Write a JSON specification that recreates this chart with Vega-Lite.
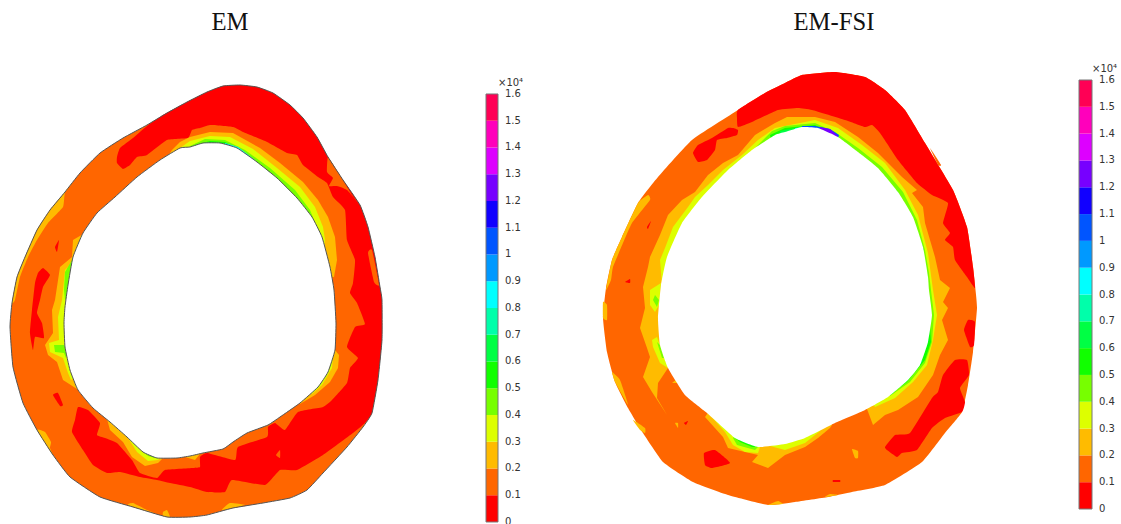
{"$schema":"https://vega.github.io/schema/vega-lite/v6.json","width":1121,"height":524,"padding":0,"autosize":"none","background":"white","view":{"stroke":null},"config":{"axis":{"disable":true}},
"datasets":{"bands":[{"b":"0","lo":0,"hi":0.1},{"b":"0.1","lo":0.1,"hi":0.2},{"b":"0.2","lo":0.2,"hi":0.3},{"b":"0.3","lo":0.3,"hi":0.4},{"b":"0.4","lo":0.4,"hi":0.5},{"b":"0.5","lo":0.5,"hi":0.6},{"b":"0.6","lo":0.6,"hi":0.7},{"b":"0.7","lo":0.7,"hi":0.8},{"b":"0.8","lo":0.8,"hi":0.9},{"b":"0.9","lo":0.9,"hi":1},{"b":"1","lo":1,"hi":1.1},{"b":"1.1","lo":1.1,"hi":1.2},{"b":"1.2","lo":1.2,"hi":1.3},{"b":"1.3","lo":1.3,"hi":1.4},{"b":"1.4","lo":1.4,"hi":1.5},{"b":"1.5","lo":1.5,"hi":1.6}],
"ticks":[{"v":0,"t":"0"},{"v":0.1,"t":"0.1"},{"v":0.2,"t":"0.2"},{"v":0.3,"t":"0.3"},{"v":0.4,"t":"0.4"},{"v":0.5,"t":"0.5"},{"v":0.6,"t":"0.6"},{"v":0.7,"t":"0.7"},{"v":0.8,"t":"0.8"},{"v":0.9,"t":"0.9"},{"v":1,"t":"1"},{"v":1.1,"t":"1.1"},{"v":1.2,"t":"1.2"},{"v":1.3,"t":"1.3"},{"v":1.4,"t":"1.4"},{"v":1.5,"t":"1.5"},{"v":1.6,"t":"1.6"}],
"shapes":[
{"s":"a0","b":"0.1","x":240,"y":85},{"s":"a0","b":"0.1","x":257,"y":87},{"s":"a0","b":"0.1","x":273,"y":93},{"s":"a0","b":"0.1","x":290,"y":105},{"s":"a0","b":"0.1","x":303,"y":118},{"s":"a0","b":"0.1","x":317,"y":137},{"s":"a0","b":"0.1","x":328,"y":157},{"s":"a0","b":"0.1","x":343,"y":180},{"s":"a0","b":"0.1","x":360,"y":205},{"s":"a0","b":"0.1","x":368,"y":227},{"s":"a0","b":"0.1","x":375,"y":257},{"s":"a0","b":"0.1","x":380,"y":287},{"s":"a0","b":"0.1","x":382,"y":300},{"s":"a0","b":"0.1","x":382,"y":340},{"s":"a0","b":"0.1","x":378,"y":380},{"s":"a0","b":"0.1","x":372,"y":413},{"s":"a0","b":"0.1","x":363,"y":427},{"s":"a0","b":"0.1","x":347,"y":447},{"s":"a0","b":"0.1","x":323,"y":473},{"s":"a0","b":"0.1","x":307,"y":490},{"s":"a0","b":"0.1","x":290,"y":498},{"s":"a0","b":"0.1","x":263,"y":503},{"s":"a0","b":"0.1","x":233,"y":508},{"s":"a0","b":"0.1","x":207,"y":515},{"s":"a0","b":"0.1","x":190,"y":517},{"s":"a0","b":"0.1","x":167,"y":517},{"s":"a0","b":"0.1","x":133,"y":507},{"s":"a0","b":"0.1","x":100,"y":497},{"s":"a0","b":"0.1","x":70,"y":477},{"s":"a0","b":"0.1","x":53,"y":455},{"s":"a0","b":"0.1","x":37,"y":430},{"s":"a0","b":"0.1","x":23,"y":403},{"s":"a0","b":"0.1","x":13,"y":367},{"s":"a0","b":"0.1","x":10,"y":327},{"s":"a0","b":"0.1","x":12,"y":303},{"s":"a0","b":"0.1","x":17,"y":277},{"s":"a0","b":"0.1","x":25,"y":257},{"s":"a0","b":"0.1","x":37,"y":230},{"s":"a0","b":"0.1","x":50,"y":210},{"s":"a0","b":"0.1","x":65,"y":192},{"s":"a0","b":"0.1","x":80,"y":173},{"s":"a0","b":"0.1","x":100,"y":153},{"s":"a0","b":"0.1","x":123,"y":138},{"s":"a0","b":"0.1","x":147,"y":125},{"s":"a0","b":"0.1","x":167,"y":113},{"s":"a0","b":"0.1","x":187,"y":102},{"s":"a0","b":"0.1","x":207,"y":92},{"s":"a0","b":"0.1","x":223,"y":86},
{"s":"a1","b":"0","x":117,"y":157},{"s":"a1","b":"0","x":120,"y":148},{"s":"a1","b":"0","x":133,"y":138},{"s":"a1","b":"0","x":147,"y":126},{"s":"a1","b":"0","x":163,"y":115},{"s":"a1","b":"0","x":187,"y":102},{"s":"a1","b":"0","x":207,"y":92},{"s":"a1","b":"0","x":223,"y":86},{"s":"a1","b":"0","x":240,"y":85},{"s":"a1","b":"0","x":257,"y":87},{"s":"a1","b":"0","x":273,"y":93},{"s":"a1","b":"0","x":290,"y":105},{"s":"a1","b":"0","x":303,"y":118},{"s":"a1","b":"0","x":317,"y":137},{"s":"a1","b":"0","x":328,"y":157},{"s":"a1","b":"0","x":343,"y":180},{"s":"a1","b":"0","x":360,"y":205},{"s":"a1","b":"0","x":368,"y":227},{"s":"a1","b":"0","x":375,"y":257},{"s":"a1","b":"0","x":380,"y":287},{"s":"a1","b":"0","x":382,"y":300},{"s":"a1","b":"0","x":382,"y":340},{"s":"a1","b":"0","x":378,"y":380},{"s":"a1","b":"0","x":372,"y":413},{"s":"a1","b":"0","x":365,"y":423},{"s":"a1","b":"0","x":353,"y":433},{"s":"a1","b":"0","x":323,"y":455},{"s":"a1","b":"0","x":297,"y":470},{"s":"a1","b":"0","x":280,"y":470},{"s":"a1","b":"0","x":265,"y":485},{"s":"a1","b":"0","x":232,"y":480},{"s":"a1","b":"0","x":225,"y":492},{"s":"a1","b":"0","x":207,"y":492},{"s":"a1","b":"0","x":190,"y":487},{"s":"a1","b":"0","x":170,"y":483},{"s":"a1","b":"0","x":157,"y":480},{"s":"a1","b":"0","x":140,"y":477},{"s":"a1","b":"0","x":120,"y":472},{"s":"a1","b":"0","x":107,"y":473},{"s":"a1","b":"0","x":93,"y":465},{"s":"a1","b":"0","x":83,"y":450},{"s":"a1","b":"0","x":72,"y":432},{"s":"a1","b":"0","x":75,"y":420},{"s":"a1","b":"0","x":78,"y":407},{"s":"a1","b":"0","x":88,"y":410},{"s":"a1","b":"0","x":100,"y":423},{"s":"a1","b":"0","x":97,"y":435},{"s":"a1","b":"0","x":105,"y":438},{"s":"a1","b":"0","x":117,"y":443},{"s":"a1","b":"0","x":132,"y":460},{"s":"a1","b":"0","x":140,"y":473},{"s":"a1","b":"0","x":157,"y":478},{"s":"a1","b":"0","x":165,"y":470},{"s":"a1","b":"0","x":193,"y":468},{"s":"a1","b":"0","x":200,"y":467},{"s":"a1","b":"0","x":200,"y":457},{"s":"a1","b":"0","x":207,"y":453},{"s":"a1","b":"0","x":235,"y":460},{"s":"a1","b":"0","x":238,"y":447},{"s":"a1","b":"0","x":267,"y":437},{"s":"a1","b":"0","x":268,"y":427},{"s":"a1","b":"0","x":275,"y":423},{"s":"a1","b":"0","x":285,"y":430},{"s":"a1","b":"0","x":298,"y":412},{"s":"a1","b":"0","x":323,"y":407},{"s":"a1","b":"0","x":332,"y":400},{"s":"a1","b":"0","x":347,"y":383},{"s":"a1","b":"0","x":350,"y":368},{"s":"a1","b":"0","x":358,"y":358},{"s":"a1","b":"0","x":347,"y":347},{"s":"a1","b":"0","x":355,"y":327},{"s":"a1","b":"0","x":365,"y":324},{"s":"a1","b":"0","x":357,"y":303},{"s":"a1","b":"0","x":350,"y":293},{"s":"a1","b":"0","x":353,"y":283},{"s":"a1","b":"0","x":355,"y":260},{"s":"a1","b":"0","x":347,"y":240},{"s":"a1","b":"0","x":345,"y":210},{"s":"a1","b":"0","x":333,"y":197},{"s":"a1","b":"0","x":327,"y":183},{"s":"a1","b":"0","x":318,"y":177},{"s":"a1","b":"0","x":303,"y":165},{"s":"a1","b":"0","x":297,"y":155},{"s":"a1","b":"0","x":287,"y":153},{"s":"a1","b":"0","x":267,"y":142},{"s":"a1","b":"0","x":243,"y":132},{"s":"a1","b":"0","x":233,"y":127},{"s":"a1","b":"0","x":210,"y":125},{"s":"a1","b":"0","x":200,"y":128},{"s":"a1","b":"0","x":192,"y":130},{"s":"a1","b":"0","x":188,"y":138},{"s":"a1","b":"0","x":167,"y":140},{"s":"a1","b":"0","x":147,"y":155},{"s":"a1","b":"0","x":137,"y":157},{"s":"a1","b":"0","x":130,"y":165},{"s":"a1","b":"0","x":123,"y":169},{"s":"a1","b":"0","x":117,"y":163},
{"s":"a2","b":"0","x":43,"y":268},{"s":"a2","b":"0","x":50,"y":275},{"s":"a2","b":"0","x":43,"y":287},{"s":"a2","b":"0","x":40,"y":300},{"s":"a2","b":"0","x":37,"y":313},{"s":"a2","b":"0","x":42,"y":323},{"s":"a2","b":"0","x":44,"y":338},{"s":"a2","b":"0","x":35,"y":337},{"s":"a2","b":"0","x":33,"y":350},{"s":"a2","b":"0","x":30,"y":333},{"s":"a2","b":"0","x":32,"y":310},{"s":"a2","b":"0","x":35,"y":283},{"s":"a2","b":"0","x":38,"y":273},
{"s":"a3","b":"0","x":55,"y":247},{"s":"a3","b":"0","x":59,"y":240},{"s":"a3","b":"0","x":57,"y":252},
{"s":"a4","b":"0","x":53,"y":395},{"s":"a4","b":"0","x":58,"y":393},{"s":"a4","b":"0","x":63,"y":405},{"s":"a4","b":"0","x":60,"y":406},
{"s":"a5","b":"0.1","x":328,"y":157},{"s":"a5","b":"0.1","x":338,"y":172},{"s":"a5","b":"0.1","x":352,"y":195},{"s":"a5","b":"0.1","x":360,"y":205},{"s":"a5","b":"0.1","x":347,"y":190},{"s":"a5","b":"0.1","x":337,"y":186},{"s":"a5","b":"0.1","x":329,"y":186},{"s":"a5","b":"0.1","x":333,"y":178},{"s":"a5","b":"0.1","x":327,"y":172},
{"s":"a6","b":"0.1","x":368,"y":253},{"s":"a6","b":"0.1","x":372,"y":250},{"s":"a6","b":"0.1","x":379,"y":285},{"s":"a6","b":"0.1","x":374,"y":282},
{"s":"a7","b":"0.1","x":276,"y":455},{"s":"a7","b":"0.1","x":280,"y":450},{"s":"a7","b":"0.1","x":280,"y":458},
{"s":"a8","b":"0.2","x":77,"y":177},{"s":"a8","b":"0.2","x":65,"y":193},{"s":"a8","b":"0.2","x":63,"y":207},{"s":"a8","b":"0.2","x":48,"y":223},{"s":"a8","b":"0.2","x":37,"y":240},{"s":"a8","b":"0.2","x":28,"y":257},{"s":"a8","b":"0.2","x":20,"y":277},{"s":"a8","b":"0.2","x":15,"y":300},{"s":"a8","b":"0.2","x":12,"y":303},{"s":"a8","b":"0.2","x":17,"y":277},{"s":"a8","b":"0.2","x":25,"y":257},{"s":"a8","b":"0.2","x":37,"y":230},{"s":"a8","b":"0.2","x":50,"y":210},{"s":"a8","b":"0.2","x":65,"y":192},
{"s":"a9","b":"0.2","x":37,"y":430},{"s":"a9","b":"0.2","x":45,"y":432},{"s":"a9","b":"0.2","x":51,"y":442},{"s":"a9","b":"0.2","x":50,"y":448},{"s":"a9","b":"0.2","x":53,"y":455},
{"s":"a10","b":"0.2","x":128,"y":505},{"s":"a10","b":"0.2","x":133,"y":503},{"s":"a10","b":"0.2","x":147,"y":510},{"s":"a10","b":"0.2","x":157,"y":514},
{"s":"a11","b":"0.2","x":163,"y":512},{"s":"a11","b":"0.2","x":167,"y":510},{"s":"a11","b":"0.2","x":170,"y":517},{"s":"a11","b":"0.2","x":163,"y":516},
{"s":"a12","b":"0.2","x":222,"y":510},{"s":"a12","b":"0.2","x":230,"y":503},{"s":"a12","b":"0.2","x":245,"y":505},
{"s":"a13","b":"0.2","x":167,"y":158},{"s":"a13","b":"0.2","x":172,"y":150},{"s":"a13","b":"0.2","x":180,"y":142},{"s":"a13","b":"0.2","x":190,"y":137},{"s":"a13","b":"0.2","x":210,"y":132},{"s":"a13","b":"0.2","x":233,"y":133},{"s":"a13","b":"0.2","x":260,"y":148},{"s":"a13","b":"0.2","x":280,"y":163},{"s":"a13","b":"0.2","x":303,"y":182},{"s":"a13","b":"0.2","x":318,"y":200},{"s":"a13","b":"0.2","x":328,"y":217},{"s":"a13","b":"0.2","x":335,"y":237},{"s":"a13","b":"0.2","x":337,"y":260},{"s":"a13","b":"0.2","x":334,"y":277},{"s":"a13","b":"0.2","x":200,"y":300},
{"s":"a14","b":"0.2","x":113,"y":199},{"s":"a14","b":"0.2","x":110,"y":205},{"s":"a14","b":"0.2","x":100,"y":210},{"s":"a14","b":"0.2","x":90,"y":230},{"s":"a14","b":"0.2","x":73,"y":240},{"s":"a14","b":"0.2","x":72,"y":257},{"s":"a14","b":"0.2","x":60,"y":267},{"s":"a14","b":"0.2","x":55,"y":300},{"s":"a14","b":"0.2","x":52,"y":310},{"s":"a14","b":"0.2","x":53,"y":333},{"s":"a14","b":"0.2","x":45,"y":345},{"s":"a14","b":"0.2","x":48,"y":355},{"s":"a14","b":"0.2","x":57,"y":362},{"s":"a14","b":"0.2","x":63,"y":380},{"s":"a14","b":"0.2","x":77,"y":389},{"s":"a14","b":"0.2","x":200,"y":300},
{"s":"a15","b":"0.2","x":107,"y":419},{"s":"a15","b":"0.2","x":110,"y":430},{"s":"a15","b":"0.2","x":123,"y":442},{"s":"a15","b":"0.2","x":132,"y":457},{"s":"a15","b":"0.2","x":145,"y":466},{"s":"a15","b":"0.2","x":158,"y":463},{"s":"a15","b":"0.2","x":163,"y":458},{"s":"a15","b":"0.2","x":185,"y":457},{"s":"a15","b":"0.2","x":195,"y":460},{"s":"a15","b":"0.2","x":200,"y":454},{"s":"a15","b":"0.2","x":200,"y":300},
{"s":"a16","b":"0.2","x":335,"y":350},{"s":"a16","b":"0.2","x":339,"y":355},{"s":"a16","b":"0.2","x":338,"y":368},{"s":"a16","b":"0.2","x":330,"y":382},{"s":"a16","b":"0.2","x":315,"y":395},{"s":"a16","b":"0.2","x":300,"y":404},{"s":"a16","b":"0.2","x":200,"y":300},
{"s":"a17","b":"0.3","x":180,"y":148},{"s":"a17","b":"0.3","x":190,"y":141},{"s":"a17","b":"0.3","x":210,"y":136},{"s":"a17","b":"0.3","x":230,"y":137},{"s":"a17","b":"0.3","x":253,"y":149},{"s":"a17","b":"0.3","x":277,"y":168},{"s":"a17","b":"0.3","x":300,"y":187},{"s":"a17","b":"0.3","x":315,"y":207},{"s":"a17","b":"0.3","x":323,"y":227},{"s":"a17","b":"0.3","x":325,"y":240},{"s":"a17","b":"0.3","x":324,"y":248},{"s":"a17","b":"0.3","x":200,"y":300},
{"s":"a18","b":"0.4","x":190,"y":146},{"s":"a18","b":"0.4","x":205,"y":139},{"s":"a18","b":"0.4","x":225,"y":140},{"s":"a18","b":"0.4","x":245,"y":150},{"s":"a18","b":"0.4","x":270,"y":168},{"s":"a18","b":"0.4","x":295,"y":190},{"s":"a18","b":"0.4","x":310,"y":210},{"s":"a18","b":"0.4","x":319,"y":232},{"s":"a18","b":"0.4","x":200,"y":300},
{"s":"a19","b":"0.5","x":195,"y":145},{"s":"a19","b":"0.5","x":210,"y":141},{"s":"a19","b":"0.5","x":225,"y":142},{"s":"a19","b":"0.5","x":245,"y":153},{"s":"a19","b":"0.5","x":270,"y":172},{"s":"a19","b":"0.5","x":292,"y":193},{"s":"a19","b":"0.5","x":305,"y":210},{"s":"a19","b":"0.5","x":200,"y":300},
{"s":"a20","b":"0.6","x":205,"y":143},{"s":"a20","b":"0.6","x":222,"y":143},{"s":"a20","b":"0.6","x":240,"y":153},{"s":"a20","b":"0.6","x":265,"y":172},{"s":"a20","b":"0.6","x":285,"y":190},{"s":"a20","b":"0.6","x":200,"y":300},
{"s":"a21","b":"0.8","x":225,"y":143},{"s":"a21","b":"0.8","x":238,"y":147},{"s":"a21","b":"0.8","x":255,"y":160},{"s":"a21","b":"0.8","x":200,"y":300},
{"s":"a22","b":"0.3","x":90,"y":224},{"s":"a22","b":"0.3","x":82,"y":238},{"s":"a22","b":"0.3","x":75,"y":260},{"s":"a22","b":"0.3","x":65,"y":270},{"s":"a22","b":"0.3","x":62,"y":300},{"s":"a22","b":"0.3","x":58,"y":317},{"s":"a22","b":"0.3","x":59,"y":340},{"s":"a22","b":"0.3","x":49,"y":343},{"s":"a22","b":"0.3","x":50,"y":352},{"s":"a22","b":"0.3","x":63,"y":358},{"s":"a22","b":"0.3","x":68,"y":373},{"s":"a22","b":"0.3","x":71,"y":380},{"s":"a22","b":"0.3","x":200,"y":300},
{"s":"a23","b":"0.4","x":72,"y":260},{"s":"a23","b":"0.4","x":65,"y":272},{"s":"a23","b":"0.4","x":64,"y":290},{"s":"a23","b":"0.4","x":65,"y":300},{"s":"a23","b":"0.4","x":200,"y":300},
{"s":"a24","b":"0.4","x":66,"y":345},{"s":"a24","b":"0.4","x":54,"y":345},{"s":"a24","b":"0.4","x":55,"y":352},{"s":"a24","b":"0.4","x":64,"y":353},{"s":"a24","b":"0.4","x":66,"y":358},
{"s":"a25","b":"0.3","x":128,"y":438},{"s":"a25","b":"0.3","x":137,"y":452},{"s":"a25","b":"0.3","x":148,"y":461},{"s":"a25","b":"0.3","x":158,"y":460},{"s":"a25","b":"0.3","x":160,"y":458},{"s":"a25","b":"0.3","x":200,"y":300},
{"s":"a26","b":"0.4","x":142,"y":451},{"s":"a26","b":"0.4","x":148,"y":456},{"s":"a26","b":"0.4","x":155,"y":458},{"s":"a26","b":"0.4","x":200,"y":300},
{"s":"a27","b":"0.3","x":334,"y":354},{"s":"a27","b":"0.3","x":333,"y":357},{"s":"a27","b":"0.3","x":332,"y":368},{"s":"a27","b":"0.3","x":322,"y":385},{"s":"a27","b":"0.3","x":312,"y":394},{"s":"a27","b":"0.3","x":200,"y":300},
{"s":"ah","b":"h","x":190,"y":147},{"s":"ah","b":"h","x":203,"y":143},{"s":"ah","b":"h","x":220,"y":143},{"s":"ah","b":"h","x":237,"y":148},{"s":"ah","b":"h","x":257,"y":162},{"s":"ah","b":"h","x":277,"y":178},{"s":"ah","b":"h","x":297,"y":198},{"s":"ah","b":"h","x":312,"y":217},{"s":"ah","b":"h","x":322,"y":237},{"s":"ah","b":"h","x":330,"y":267},{"s":"ah","b":"h","x":334,"y":290},{"s":"ah","b":"h","x":336,"y":323},{"s":"ah","b":"h","x":335,"y":350},{"s":"ah","b":"h","x":328,"y":372},{"s":"ah","b":"h","x":318,"y":387},{"s":"ah","b":"h","x":300,"y":403},{"s":"ah","b":"h","x":280,"y":417},{"s":"ah","b":"h","x":268,"y":425},{"s":"ah","b":"h","x":247,"y":433},{"s":"ah","b":"h","x":233,"y":442},{"s":"ah","b":"h","x":223,"y":449},{"s":"ah","b":"h","x":203,"y":453},{"s":"ah","b":"h","x":190,"y":456},{"s":"ah","b":"h","x":177,"y":458},{"s":"ah","b":"h","x":157,"y":458},{"s":"ah","b":"h","x":143,"y":452},{"s":"ah","b":"h","x":127,"y":437},{"s":"ah","b":"h","x":110,"y":422},{"s":"ah","b":"h","x":93,"y":408},{"s":"ah","b":"h","x":78,"y":390},{"s":"ah","b":"h","x":70,"y":370},{"s":"ah","b":"h","x":65,"y":347},{"s":"ah","b":"h","x":64,"y":323},{"s":"ah","b":"h","x":65,"y":307},{"s":"ah","b":"h","x":68,"y":285},{"s":"ah","b":"h","x":73,"y":257},{"s":"ah","b":"h","x":83,"y":233},{"s":"ah","b":"h","x":97,"y":213},{"s":"ah","b":"h","x":115,"y":197},{"s":"ah","b":"h","x":137,"y":177},{"s":"ah","b":"h","x":160,"y":160},{"s":"ah","b":"h","x":180,"y":148},
{"s":"b0","b":"0.1","x":835,"y":72},{"s":"b0","b":"0.1","x":865,"y":77},{"s":"b0","b":"0.1","x":885,"y":90},{"s":"b0","b":"0.1","x":905,"y":110},{"s":"b0","b":"0.1","x":925,"y":143},{"s":"b0","b":"0.1","x":953,"y":190},{"s":"b0","b":"0.1","x":967,"y":227},{"s":"b0","b":"0.1","x":973,"y":267},{"s":"b0","b":"0.1","x":975,"y":285},{"s":"b0","b":"0.1","x":977,"y":308},{"s":"b0","b":"0.1","x":973,"y":352},{"s":"b0","b":"0.1","x":968,"y":385},{"s":"b0","b":"0.1","x":962,"y":412},{"s":"b0","b":"0.1","x":945,"y":433},{"s":"b0","b":"0.1","x":922,"y":462},{"s":"b0","b":"0.1","x":885,"y":485},{"s":"b0","b":"0.1","x":852,"y":492},{"s":"b0","b":"0.1","x":828,"y":497},{"s":"b0","b":"0.1","x":795,"y":502},{"s":"b0","b":"0.1","x":768,"y":505},{"s":"b0","b":"0.1","x":728,"y":495},{"s":"b0","b":"0.1","x":693,"y":482},{"s":"b0","b":"0.1","x":663,"y":462},{"s":"b0","b":"0.1","x":643,"y":433},{"s":"b0","b":"0.1","x":628,"y":408},{"s":"b0","b":"0.1","x":615,"y":382},{"s":"b0","b":"0.1","x":607,"y":352},{"s":"b0","b":"0.1","x":603,"y":318},{"s":"b0","b":"0.1","x":606,"y":288},{"s":"b0","b":"0.1","x":612,"y":260},{"s":"b0","b":"0.1","x":622,"y":237},{"s":"b0","b":"0.1","x":638,"y":203},{"s":"b0","b":"0.1","x":658,"y":177},{"s":"b0","b":"0.1","x":692,"y":140},{"s":"b0","b":"0.1","x":738,"y":110},{"s":"b0","b":"0.1","x":765,"y":93},{"s":"b0","b":"0.1","x":785,"y":83},{"s":"b0","b":"0.1","x":802,"y":75},
{"s":"b1","b":"0","x":737,"y":118},{"s":"b1","b":"0","x":738,"y":110},{"s":"b1","b":"0","x":765,"y":93},{"s":"b1","b":"0","x":785,"y":83},{"s":"b1","b":"0","x":802,"y":75},{"s":"b1","b":"0","x":835,"y":72},{"s":"b1","b":"0","x":865,"y":77},{"s":"b1","b":"0","x":885,"y":90},{"s":"b1","b":"0","x":905,"y":110},{"s":"b1","b":"0","x":925,"y":143},{"s":"b1","b":"0","x":953,"y":190},{"s":"b1","b":"0","x":967,"y":227},{"s":"b1","b":"0","x":973,"y":267},{"s":"b1","b":"0","x":975,"y":288},{"s":"b1","b":"0","x":967,"y":277},{"s":"b1","b":"0","x":955,"y":260},{"s":"b1","b":"0","x":953,"y":247},{"s":"b1","b":"0","x":945,"y":240},{"s":"b1","b":"0","x":950,"y":233},{"s":"b1","b":"0","x":943,"y":223},{"s":"b1","b":"0","x":948,"y":203},{"s":"b1","b":"0","x":932,"y":195},{"s":"b1","b":"0","x":917,"y":183},{"s":"b1","b":"0","x":898,"y":160},{"s":"b1","b":"0","x":880,"y":133},{"s":"b1","b":"0","x":872,"y":125},{"s":"b1","b":"0","x":865,"y":127},{"s":"b1","b":"0","x":845,"y":120},{"s":"b1","b":"0","x":812,"y":110},{"s":"b1","b":"0","x":798,"y":108},{"s":"b1","b":"0","x":778,"y":110},{"s":"b1","b":"0","x":752,"y":122},{"s":"b1","b":"0","x":738,"y":127},
{"s":"b2","b":"0","x":693,"y":153},{"s":"b2","b":"0","x":698,"y":145},{"s":"b2","b":"0","x":712,"y":138},{"s":"b2","b":"0","x":728,"y":128},{"s":"b2","b":"0","x":733,"y":128},{"s":"b2","b":"0","x":738,"y":130},{"s":"b2","b":"0","x":737,"y":135},{"s":"b2","b":"0","x":727,"y":138},{"s":"b2","b":"0","x":717,"y":140},{"s":"b2","b":"0","x":715,"y":150},{"s":"b2","b":"0","x":707,"y":160},{"s":"b2","b":"0","x":698,"y":162},
{"s":"b3","b":"0","x":885,"y":447},{"s":"b3","b":"0","x":895,"y":435},{"s":"b3","b":"0","x":910,"y":433},{"s":"b3","b":"0","x":932,"y":398},{"s":"b3","b":"0","x":938,"y":392},{"s":"b3","b":"0","x":943,"y":375},{"s":"b3","b":"0","x":955,"y":360},{"s":"b3","b":"0","x":967,"y":360},{"s":"b3","b":"0","x":969,"y":375},{"s":"b3","b":"0","x":960,"y":388},{"s":"b3","b":"0","x":965,"y":402},{"s":"b3","b":"0","x":962,"y":412},{"s":"b3","b":"0","x":945,"y":418},{"s":"b3","b":"0","x":932,"y":428},{"s":"b3","b":"0","x":917,"y":450},{"s":"b3","b":"0","x":902,"y":453},{"s":"b3","b":"0","x":897,"y":457},{"s":"b3","b":"0","x":887,"y":450},
{"s":"b4","b":"0","x":968,"y":320},{"s":"b4","b":"0","x":975,"y":322},{"s":"b4","b":"0","x":974,"y":345},{"s":"b4","b":"0","x":970,"y":347},{"s":"b4","b":"0","x":964,"y":330},
{"s":"b5","b":"0","x":704,"y":453},{"s":"b5","b":"0","x":715,"y":450},{"s":"b5","b":"0","x":730,"y":463},{"s":"b5","b":"0","x":712,"y":468},{"s":"b5","b":"0","x":705,"y":465},
{"s":"b6","b":"0","x":833,"y":480},{"s":"b6","b":"0","x":840,"y":480},{"s":"b6","b":"0","x":840,"y":482},{"s":"b6","b":"0","x":833,"y":482},
{"s":"b7","b":"0","x":684,"y":423},{"s":"b7","b":"0","x":688,"y":421},{"s":"b7","b":"0","x":686,"y":425},
{"s":"b8","b":"0","x":647,"y":227},{"s":"b8","b":"0","x":651,"y":221},{"s":"b8","b":"0","x":648,"y":229},
{"s":"b9","b":"0","x":625,"y":282},{"s":"b9","b":"0","x":630,"y":279},{"s":"b9","b":"0","x":630,"y":283},
{"s":"b10","b":"0.1","x":930,"y":148},{"s":"b10","b":"0.1","x":941,"y":165},{"s":"b10","b":"0.1","x":938,"y":165},
{"s":"b11","b":"0.2","x":648,"y":195},{"s":"b11","b":"0.2","x":650,"y":200},{"s":"b11","b":"0.2","x":632,"y":223},{"s":"b11","b":"0.2","x":623,"y":243},{"s":"b11","b":"0.2","x":613,"y":267},{"s":"b11","b":"0.2","x":611,"y":280},{"s":"b11","b":"0.2","x":606,"y":290},{"s":"b11","b":"0.2","x":612,"y":260},{"s":"b11","b":"0.2","x":622,"y":237},{"s":"b11","b":"0.2","x":638,"y":203},
{"s":"b12","b":"0.2","x":603,"y":302},{"s":"b12","b":"0.2","x":607,"y":305},{"s":"b12","b":"0.2","x":607,"y":320},{"s":"b12","b":"0.2","x":603,"y":318},
{"s":"b13","b":"0.2","x":612,"y":372},{"s":"b13","b":"0.2","x":620,"y":380},{"s":"b13","b":"0.2","x":628,"y":405},{"s":"b13","b":"0.2","x":615,"y":382},
{"s":"b14","b":"0.2","x":633,"y":420},{"s":"b14","b":"0.2","x":645,"y":428},{"s":"b14","b":"0.2","x":645,"y":433},{"s":"b14","b":"0.2","x":640,"y":430},
{"s":"b15","b":"0.2","x":768,"y":505},{"s":"b15","b":"0.2","x":778,"y":501},{"s":"b15","b":"0.2","x":783,"y":504},
{"s":"b16","b":"0.2","x":825,"y":497},{"s":"b16","b":"0.2","x":830,"y":494},{"s":"b16","b":"0.2","x":838,"y":495},
{"s":"b17","b":"0.2","x":852,"y":449},{"s":"b17","b":"0.2","x":858,"y":451},{"s":"b17","b":"0.2","x":858,"y":458},{"s":"b17","b":"0.2","x":855,"y":458},
{"s":"b18","b":"0.2","x":675,"y":423},{"s":"b18","b":"0.2","x":678,"y":423},{"s":"b18","b":"0.2","x":678,"y":428},
{"s":"b19","b":"0.2","x":668,"y":368},{"s":"b19","b":"0.2","x":658,"y":383},{"s":"b19","b":"0.2","x":657,"y":398},{"s":"b19","b":"0.2","x":667,"y":415},{"s":"b19","b":"0.2","x":652,"y":392},{"s":"b19","b":"0.2","x":643,"y":377},{"s":"b19","b":"0.2","x":650,"y":357},{"s":"b19","b":"0.2","x":647,"y":348},{"s":"b19","b":"0.2","x":640,"y":328},{"s":"b19","b":"0.2","x":645,"y":308},{"s":"b19","b":"0.2","x":643,"y":287},{"s":"b19","b":"0.2","x":648,"y":267},{"s":"b19","b":"0.2","x":650,"y":257},{"s":"b19","b":"0.2","x":660,"y":235},{"s":"b19","b":"0.2","x":668,"y":215},{"s":"b19","b":"0.2","x":682,"y":200},{"s":"b19","b":"0.2","x":695,"y":192},{"s":"b19","b":"0.2","x":708,"y":175},{"s":"b19","b":"0.2","x":723,"y":163},{"s":"b19","b":"0.2","x":738,"y":155},{"s":"b19","b":"0.2","x":755,"y":135},{"s":"b19","b":"0.2","x":775,"y":123},{"s":"b19","b":"0.2","x":787,"y":117},{"s":"b19","b":"0.2","x":815,"y":117},{"s":"b19","b":"0.2","x":835,"y":122},{"s":"b19","b":"0.2","x":858,"y":137},{"s":"b19","b":"0.2","x":878,"y":153},{"s":"b19","b":"0.2","x":902,"y":177},{"s":"b19","b":"0.2","x":917,"y":190},{"s":"b19","b":"0.2","x":912,"y":193},{"s":"b19","b":"0.2","x":923,"y":207},{"s":"b19","b":"0.2","x":925,"y":223},{"s":"b19","b":"0.2","x":935,"y":257},{"s":"b19","b":"0.2","x":940,"y":280},{"s":"b19","b":"0.2","x":950,"y":288},{"s":"b19","b":"0.2","x":943,"y":302},{"s":"b19","b":"0.2","x":948,"y":308},{"s":"b19","b":"0.2","x":942,"y":320},{"s":"b19","b":"0.2","x":948,"y":340},{"s":"b19","b":"0.2","x":940,"y":355},{"s":"b19","b":"0.2","x":933,"y":375},{"s":"b19","b":"0.2","x":918,"y":397},{"s":"b19","b":"0.2","x":898,"y":410},{"s":"b19","b":"0.2","x":885,"y":415},{"s":"b19","b":"0.2","x":873,"y":425},{"s":"b19","b":"0.2","x":867,"y":409},{"s":"b19","b":"0.2","x":800,"y":280},
{"s":"b20","b":"0.2","x":832,"y":425},{"s":"b20","b":"0.2","x":830,"y":428},{"s":"b20","b":"0.2","x":818,"y":438},{"s":"b20","b":"0.2","x":805,"y":447},{"s":"b20","b":"0.2","x":785,"y":455},{"s":"b20","b":"0.2","x":768,"y":468},{"s":"b20","b":"0.2","x":752,"y":462},{"s":"b20","b":"0.2","x":758,"y":455},{"s":"b20","b":"0.2","x":728,"y":448},{"s":"b20","b":"0.2","x":723,"y":437},{"s":"b20","b":"0.2","x":705,"y":417},{"s":"b20","b":"0.2","x":800,"y":280},
{"s":"b21","b":"0.2","x":672,"y":383},{"s":"b21","b":"0.2","x":680,"y":383},{"s":"b21","b":"0.2","x":703,"y":410},{"s":"b21","b":"0.2","x":800,"y":280},
{"s":"b22","b":"0.3","x":662,"y":285},{"s":"b22","b":"0.3","x":660,"y":260},{"s":"b22","b":"0.3","x":665,"y":248},{"s":"b22","b":"0.3","x":673,"y":227},{"s":"b22","b":"0.3","x":688,"y":207},{"s":"b22","b":"0.3","x":695,"y":197},{"s":"b22","b":"0.3","x":708,"y":185},{"s":"b22","b":"0.3","x":723,"y":170},{"s":"b22","b":"0.3","x":742,"y":155},{"s":"b22","b":"0.3","x":758,"y":140},{"s":"b22","b":"0.3","x":775,"y":128},{"s":"b22","b":"0.3","x":795,"y":124},{"s":"b22","b":"0.3","x":815,"y":120},{"s":"b22","b":"0.3","x":838,"y":128},{"s":"b22","b":"0.3","x":862,"y":145},{"s":"b22","b":"0.3","x":885,"y":163},{"s":"b22","b":"0.3","x":905,"y":190},{"s":"b22","b":"0.3","x":918,"y":215},{"s":"b22","b":"0.3","x":928,"y":253},{"s":"b22","b":"0.3","x":933,"y":290},{"s":"b22","b":"0.3","x":937,"y":315},{"s":"b22","b":"0.3","x":933,"y":340},{"s":"b22","b":"0.3","x":927,"y":365},{"s":"b22","b":"0.3","x":913,"y":382},{"s":"b22","b":"0.3","x":895,"y":398},{"s":"b22","b":"0.3","x":875,"y":407},{"s":"b22","b":"0.3","x":800,"y":280},
{"s":"b23","b":"0.3","x":661,"y":283},{"s":"b23","b":"0.3","x":650,"y":290},{"s":"b23","b":"0.3","x":650,"y":305},{"s":"b23","b":"0.3","x":655,"y":312},{"s":"b23","b":"0.3","x":659,"y":305},
{"s":"b24","b":"0.3","x":652,"y":340},{"s":"b24","b":"0.3","x":657,"y":337},{"s":"b24","b":"0.3","x":668,"y":368},{"s":"b24","b":"0.3","x":660,"y":363},{"s":"b24","b":"0.3","x":653,"y":347},
{"s":"b25","b":"0.3","x":708,"y":413},{"s":"b25","b":"0.3","x":725,"y":432},{"s":"b25","b":"0.3","x":733,"y":445},{"s":"b25","b":"0.3","x":745,"y":452},{"s":"b25","b":"0.3","x":758,"y":453},{"s":"b25","b":"0.3","x":760,"y":447},{"s":"b25","b":"0.3","x":800,"y":280},
{"s":"b26","b":"0.3","x":770,"y":446},{"s":"b26","b":"0.3","x":785,"y":450},{"s":"b26","b":"0.3","x":805,"y":443},{"s":"b26","b":"0.3","x":820,"y":431},{"s":"b26","b":"0.3","x":800,"y":280},
{"s":"b27","b":"0.4","x":755,"y":148},{"s":"b27","b":"0.4","x":772,"y":131},{"s":"b27","b":"0.4","x":785,"y":126},{"s":"b27","b":"0.4","x":815,"y":123},{"s":"b27","b":"0.4","x":835,"y":132},{"s":"b27","b":"0.4","x":858,"y":148},{"s":"b27","b":"0.4","x":882,"y":167},{"s":"b27","b":"0.4","x":903,"y":192},{"s":"b27","b":"0.4","x":917,"y":220},{"s":"b27","b":"0.4","x":925,"y":250},{"s":"b27","b":"0.4","x":929,"y":273},{"s":"b27","b":"0.4","x":931,"y":290},{"s":"b27","b":"0.4","x":934,"y":315},{"s":"b27","b":"0.4","x":932,"y":342},{"s":"b27","b":"0.4","x":925,"y":363},{"s":"b27","b":"0.4","x":910,"y":382},{"s":"b27","b":"0.4","x":890,"y":396},{"s":"b27","b":"0.4","x":800,"y":280},
{"s":"b28","b":"0.4","x":655,"y":295},{"s":"b28","b":"0.4","x":653,"y":300},{"s":"b28","b":"0.4","x":657,"y":307},{"s":"b28","b":"0.4","x":659,"y":300},
{"s":"b29","b":"0.4","x":660,"y":345},{"s":"b29","b":"0.4","x":657,"y":342},{"s":"b29","b":"0.4","x":662,"y":358},{"s":"b29","b":"0.4","x":664,"y":358},
{"s":"b30","b":"0.4","x":733,"y":438},{"s":"b30","b":"0.4","x":737,"y":445},{"s":"b30","b":"0.4","x":755,"y":450},{"s":"b30","b":"0.4","x":758,"y":447},{"s":"b30","b":"0.4","x":800,"y":280},
{"s":"b31","b":"0.5","x":735,"y":438},{"s":"b31","b":"0.5","x":740,"y":442},{"s":"b31","b":"0.5","x":752,"y":447},{"s":"b31","b":"0.5","x":755,"y":447},{"s":"b31","b":"0.5","x":800,"y":280},
{"s":"b32","b":"0.5","x":770,"y":135},{"s":"b32","b":"0.5","x":785,"y":128},{"s":"b32","b":"0.5","x":815,"y":125},{"s":"b32","b":"0.5","x":833,"y":135},{"s":"b32","b":"0.5","x":855,"y":150},{"s":"b32","b":"0.5","x":878,"y":170},{"s":"b32","b":"0.5","x":898,"y":192},{"s":"b32","b":"0.5","x":913,"y":220},{"s":"b32","b":"0.5","x":924,"y":250},{"s":"b32","b":"0.5","x":800,"y":280},
{"s":"b33","b":"0.5","x":930,"y":325},{"s":"b33","b":"0.5","x":931,"y":342},{"s":"b33","b":"0.5","x":925,"y":360},{"s":"b33","b":"0.5","x":907,"y":382},{"s":"b33","b":"0.5","x":888,"y":396},{"s":"b33","b":"0.5","x":800,"y":280},
{"s":"b34","b":"0.6","x":780,"y":131},{"s":"b34","b":"0.6","x":800,"y":127},{"s":"b34","b":"0.6","x":815,"y":126},{"s":"b34","b":"0.6","x":832,"y":137},{"s":"b34","b":"0.6","x":852,"y":151},{"s":"b34","b":"0.6","x":875,"y":170},{"s":"b34","b":"0.6","x":895,"y":192},{"s":"b34","b":"0.6","x":800,"y":280},
{"s":"b35","b":"0.6","x":929,"y":340},{"s":"b35","b":"0.6","x":922,"y":360},{"s":"b35","b":"0.6","x":905,"y":380},{"s":"b35","b":"0.6","x":892,"y":394},{"s":"b35","b":"0.6","x":800,"y":280},
{"s":"b36","b":"0.8","x":795,"y":128},{"s":"b36","b":"0.8","x":815,"y":127},{"s":"b36","b":"0.8","x":835,"y":135},{"s":"b36","b":"0.8","x":855,"y":152},{"s":"b36","b":"0.8","x":875,"y":170},{"s":"b36","b":"0.8","x":800,"y":280},
{"s":"b37","b":"0.8","x":921,"y":362},{"s":"b37","b":"0.8","x":923,"y":360},{"s":"b37","b":"0.8","x":916,"y":370},{"s":"b37","b":"0.8","x":800,"y":280},
{"s":"b38","b":"1","x":802,"y":126},{"s":"b38","b":"1","x":815,"y":126},{"s":"b38","b":"1","x":830,"y":129},{"s":"b38","b":"1","x":839,"y":135},{"s":"b38","b":"1","x":838,"y":138},{"s":"b38","b":"1","x":800,"y":280},
{"s":"b39","b":"1.2","x":820,"y":127},{"s":"b39","b":"1.2","x":830,"y":129},{"s":"b39","b":"1.2","x":838,"y":136},{"s":"b39","b":"1.2","x":800,"y":280},
{"s":"bh","b":"h","x":785,"y":132},{"s":"bh","b":"h","x":802,"y":127},{"s":"bh","b":"h","x":818,"y":128},{"s":"bh","b":"h","x":838,"y":137},{"s":"bh","b":"h","x":858,"y":152},{"s":"bh","b":"h","x":878,"y":168},{"s":"bh","b":"h","x":898,"y":192},{"s":"bh","b":"h","x":913,"y":217},{"s":"bh","b":"h","x":923,"y":247},{"s":"bh","b":"h","x":928,"y":277},{"s":"bh","b":"h","x":929,"y":290},{"s":"bh","b":"h","x":932,"y":315},{"s":"bh","b":"h","x":928,"y":342},{"s":"bh","b":"h","x":920,"y":365},{"s":"bh","b":"h","x":908,"y":380},{"s":"bh","b":"h","x":888,"y":397},{"s":"bh","b":"h","x":865,"y":410},{"s":"bh","b":"h","x":835,"y":423},{"s":"bh","b":"h","x":805,"y":438},{"s":"bh","b":"h","x":785,"y":444},{"s":"bh","b":"h","x":758,"y":447},{"s":"bh","b":"h","x":735,"y":438},{"s":"bh","b":"h","x":707,"y":413},{"s":"bh","b":"h","x":685,"y":395},{"s":"bh","b":"h","x":668,"y":368},{"s":"bh","b":"h","x":660,"y":345},{"s":"bh","b":"h","x":658,"y":318},{"s":"bh","b":"h","x":661,"y":285},{"s":"bh","b":"h","x":667,"y":257},{"s":"bh","b":"h","x":682,"y":223},{"s":"bh","b":"h","x":702,"y":197},{"s":"bh","b":"h","x":728,"y":170},{"s":"bh","b":"h","x":752,"y":150},{"s":"bh","b":"h","x":775,"y":135}
]},
"resolve":{"scale":{"y":"independent"}},
"layer":[
{"data":{"name":"shapes"},"transform":[{"filter":{"not":{"field":"s","oneOf":["ah","bh","a13","a14","a15","a16","a17","a18","a19","a20","a21","a22","a23","a24","a25","a26","a27","b19","b20","b21","b22","b23","b24","b25","b26","b27","b28","b29","b30","b31","b32","b33","b34","b35","b36","b37","b38","b39"]}}}],"mark":{"type":"line","filled":true,"order":false,"interpolate":"cardinal-closed","tension":0.6},"encoding":{"x":{"field":"x","type":"quantitative","scale":{"domain":[0,1121],"nice":false,"zero":false},"axis":null},"y":{"field":"y","type":"quantitative","scale":{"domain":[524,0],"nice":false,"zero":false},"axis":null},"fill":{"field":"b","type":"nominal","legend":null,"scale":{"domain":["0","0.1","0.2","0.3","0.4","0.5","0.6","0.7","0.8","0.9","1","1.1","1.2","1.3","1.4","1.5","h"],"range":["#FF0000","#FF6600","#FFBB00","#DDFF00","#77FF00","#11FF00","#00FF44","#00FFAA","#00FFFF","#0099FF","#0055FF","#1100FF","#7700FF","#DD00FF","#FF00BB","#FF0055","#FFFFFF"]}},"detail":{"field":"s"}}},
{"data":{"name":"shapes"},"transform":[{"filter":{"field":"s","oneOf":["a13","a14","a15","a16","a17","a18","a19","a20","a21","a22","a23","a24","a25","a26","a27","b19","b20","b21","b22","b23","b24","b25","b26","b27","b28","b29","b30","b31","b32","b33","b34","b35","b36","b37","b38","b39"]}}],"mark":{"type":"line","filled":true,"order":false,"interpolate":"linear-closed"},"encoding":{"x":{"field":"x","type":"quantitative","scale":{"domain":[0,1121],"nice":false,"zero":false},"axis":null},"y":{"field":"y","type":"quantitative","scale":{"domain":[524,0],"nice":false,"zero":false},"axis":null},"fill":{"field":"b","type":"nominal","legend":null},"detail":{"field":"s"}}},
{"data":{"name":"shapes"},"transform":[{"filter":{"field":"s","oneOf":["ah","bh"]}}],"mark":{"type":"line","filled":true,"order":false,"interpolate":"cardinal-closed","tension":0.6},"encoding":{"x":{"field":"x","type":"quantitative","scale":{"domain":[0,1121],"nice":false,"zero":false},"axis":null},"y":{"field":"y","type":"quantitative","scale":{"domain":[524,0],"nice":false,"zero":false},"axis":null},"fill":{"field":"b","type":"nominal","legend":null},"detail":{"field":"s"}}},
{"data":{"name":"shapes"},"transform":[{"filter":{"field":"s","oneOf":["a0","ah"]}}],"mark":{"type":"line","order":false,"stroke":"#555555","strokeWidth":1,"interpolate":"cardinal-closed","tension":0.6},"encoding":{"x":{"field":"x","type":"quantitative","scale":{"domain":[0,1121],"nice":false,"zero":false},"axis":null},"y":{"field":"y","type":"quantitative","scale":{"domain":[524,0],"nice":false,"zero":false},"axis":null},"detail":{"field":"s"}}},
{"data":{"values":[{"x":230,"y":23,"t":"EM"},{"x":834,"y":23,"t":"EM-FSI"}]},"mark":{"type":"text","font":"Liberation Serif","fontSize":24.7,"color":"#111111","align":"center","baseline":"middle"},"encoding":{"x":{"field":"x","type":"quantitative","scale":{"domain":[0,1121],"nice":false,"zero":false},"axis":null},"y":{"field":"y","type":"quantitative","scale":{"domain":[524,0],"nice":false,"zero":false},"axis":null},"text":{"field":"t"}}},
{"data":{"name":"bands"},"mark":{"type":"rect"},"encoding":{"x":{"datum":486,"type":"quantitative","scale":{"domain":[0,1121],"nice":false,"zero":false},"axis":null},"x2":{"datum":498},"y":{"field":"lo","type":"quantitative","scale":{"domain":[-0.0075,1.9514],"nice":false,"zero":false},"axis":null},"y2":{"field":"hi"},"fill":{"field":"b","type":"nominal","legend":null}}},
{"data":{"values":[{"lo":0,"hi":1.6}]},"mark":{"type":"rect","fillOpacity":0,"stroke":"#777777","strokeWidth":1},"encoding":{"x":{"datum":486,"type":"quantitative"},"x2":{"datum":498},"y":{"field":"lo","type":"quantitative","scale":{"domain":[-0.0075,1.9514],"nice":false,"zero":false},"axis":null},"y2":{"field":"hi"}}},
{"data":{"name":"ticks"},"mark":{"type":"text","font":"DejaVu Sans","fontSize":10,"color":"#333333","align":"left","baseline":"middle"},"encoding":{"x":{"datum":505,"type":"quantitative"},"y":{"field":"v","type":"quantitative","scale":{"domain":[-0.0075,1.9514],"nice":false,"zero":false},"axis":null},"text":{"field":"t"}}},
{"data":{"values":[{"v":1.6,"t":"×10⁴"}]},"mark":{"type":"text","font":"DejaVu Sans","fontSize":10,"color":"#333333","align":"left","baseline":"middle","dy":-11},"encoding":{"x":{"datum":498,"type":"quantitative"},"y":{"field":"v","type":"quantitative","scale":{"domain":[-0.0075,1.9514],"nice":false,"zero":false},"axis":null},"text":{"field":"t"}}},
{"data":{"name":"bands"},"mark":{"type":"rect"},"encoding":{"x":{"datum":1079,"type":"quantitative"},"x2":{"datum":1092},"y":{"field":"lo","type":"quantitative","scale":{"domain":[-0.0559,1.8984],"nice":false,"zero":false},"axis":null},"y2":{"field":"hi"},"fill":{"field":"b","type":"nominal","legend":null}}},
{"data":{"values":[{"lo":0,"hi":1.6}]},"mark":{"type":"rect","fillOpacity":0,"stroke":"#777777","strokeWidth":1},"encoding":{"x":{"datum":1079,"type":"quantitative"},"x2":{"datum":1092},"y":{"field":"lo","type":"quantitative","scale":{"domain":[-0.0559,1.8984],"nice":false,"zero":false},"axis":null},"y2":{"field":"hi"}}},
{"data":{"name":"ticks"},"mark":{"type":"text","font":"DejaVu Sans","fontSize":10,"color":"#333333","align":"left","baseline":"middle"},"encoding":{"x":{"datum":1099,"type":"quantitative"},"y":{"field":"v","type":"quantitative","scale":{"domain":[-0.0559,1.8984],"nice":false,"zero":false},"axis":null},"text":{"field":"t"}}},
{"data":{"values":[{"v":1.6,"t":"×10⁴"}]},"mark":{"type":"text","font":"DejaVu Sans","fontSize":10,"color":"#333333","align":"left","baseline":"middle","dy":-11},"encoding":{"x":{"datum":1092,"type":"quantitative"},"y":{"field":"v","type":"quantitative","scale":{"domain":[-0.0559,1.8984],"nice":false,"zero":false},"axis":null},"text":{"field":"t"}}}
]}
